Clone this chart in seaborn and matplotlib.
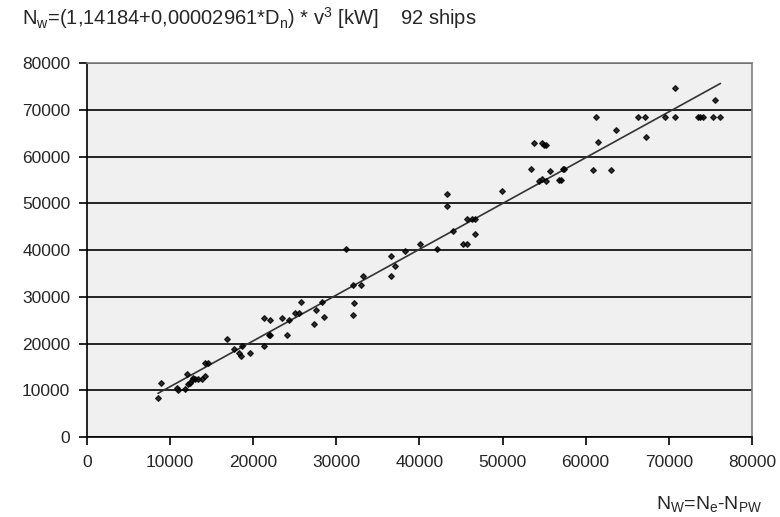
import matplotlib
matplotlib.use("Agg")
import matplotlib.pyplot as plt
import pandas as pd
import seaborn as sns

# power: N_e - N_PW (x) vs N_w (y)
ne_npw = [8540, 8940, 10790, 10950, 11750, 12000, 12190, 12390, 12620, 12720,
          13000, 13390, 13800, 14200, 14160, 14600, 16810, 17650, 18290, 18500,
          18690, 19650, 21260, 21260, 21860, 22060, 22060, 23470, 24070, 24270,
          25070, 25470, 25710, 27320, 27520, 28520, 28320, 31170, 31970, 31970,
          32170, 32970, 33170, 36620, 36620, 37030, 38270, 40070, 42080, 43290,
          43290, 44080, 45290, 45690, 45690, 46290, 46690, 46690, 49980, 53390,
          54390, 54790, 55200, 55720, 53790, 54790, 55000, 55200, 56830, 57040,
          57240, 57440, 60850, 61290, 61490, 63090, 63700, 66310, 67110, 67300,
          69550, 70760, 70760, 73560, 73760, 74160, 75370, 76210, 75610]
nw = [8360, 11650, 10500, 10150, 10220, 13500, 11290, 11650, 12300, 12730,
      12360, 12360, 12360, 13070, 15940, 15940, 21000, 18790, 18080, 17360,
      19500, 18080, 25370, 19500, 21730, 21730, 24940, 25370, 21730, 24940,
      26440, 26440, 28930, 24210, 27150, 25710, 28930, 40150, 32570, 26080,
      28580, 32570, 34370, 38650, 34370, 36510, 39790, 41220, 40150, 52000,
      49500, 44080, 41220, 41220, 46580, 46580, 46580, 43370, 52710, 57360,
      54850, 55220, 54850, 57000, 62870, 62870, 62440, 62440, 54940, 54940,
      57430, 57430, 57080, 68570, 63210, 57080, 65720, 68570, 68570, 64280,
      68570, 74650, 68570, 68570, 68570, 68570, 68570, 68570, 72150]

x_ticks = [0, 10000, 20000, 30000, 40000, 50000, 60000, 70000, 80000]
y_ticks = [0, 10000, 20000, 30000, 40000, 50000, 60000, 70000, 80000]

df = pd.DataFrame({"x": ne_npw, "y": nw})

sns.set_style("ticks")
plt.rcParams['font.family'] = ['Liberation Sans', 'DejaVu Sans']
plt.rcParams['mathtext.fontset'] = 'custom'
plt.rcParams['mathtext.rm'] = 'Liberation Sans'
plt.rcParams['mathtext.it'] = 'Liberation Sans'

fig = plt.figure(figsize=(7.8, 5.17), dpi=100)
ax = fig.add_axes([0.1115, 0.1547, 0.8525, 0.7233])
ax.set_facecolor("#f0f0f0")

ax.yaxis.grid(True, color="black", lw=1.2, zorder=0)
ax.set_axisbelow(True)

sns.regplot(data=df, x="x", y="y", ax=ax, ci=None, marker="D",
            scatter_kws={"s": 8, "color": "black", "zorder": 3},
            line_kws={"color": "#333333", "lw": 1.2, "zorder": 2})

ax.set_xlim(0, 80000)
ax.set_ylim(0, 80000)
ax.set_xticks(x_ticks)
ax.set_yticks(y_ticks)
ax.tick_params(labelsize=12.5, length=6, width=1.2, color="black")
ax.tick_params(axis="y", pad=6)
ax.tick_params(axis="x", pad=7)
ax.set_xlabel("")
ax.set_ylabel("")

for s in ["left", "bottom"]:
    ax.spines[s].set_color("black")
    ax.spines[s].set_linewidth(1.2)
for s in ["top", "right"]:
    ax.spines[s].set_visible(True)
    ax.spines[s].set_color("#808080")
    ax.spines[s].set_linewidth(1.2)

fig.text(0.028, 0.966, r"N$_\mathrm{w}$=(1,14184+0,00002961*D$_\mathrm{n}$) * v$^3$ [kW]    92 ships",
         fontsize=14.5, ha="left", va="center")
fig.text(0.977, 0.026, r"N$_\mathrm{W}$=N$_\mathrm{e}$-N$_\mathrm{PW}$",
         fontsize=14, ha="right", va="center")

fig.savefig("out.png", dpi=100)
